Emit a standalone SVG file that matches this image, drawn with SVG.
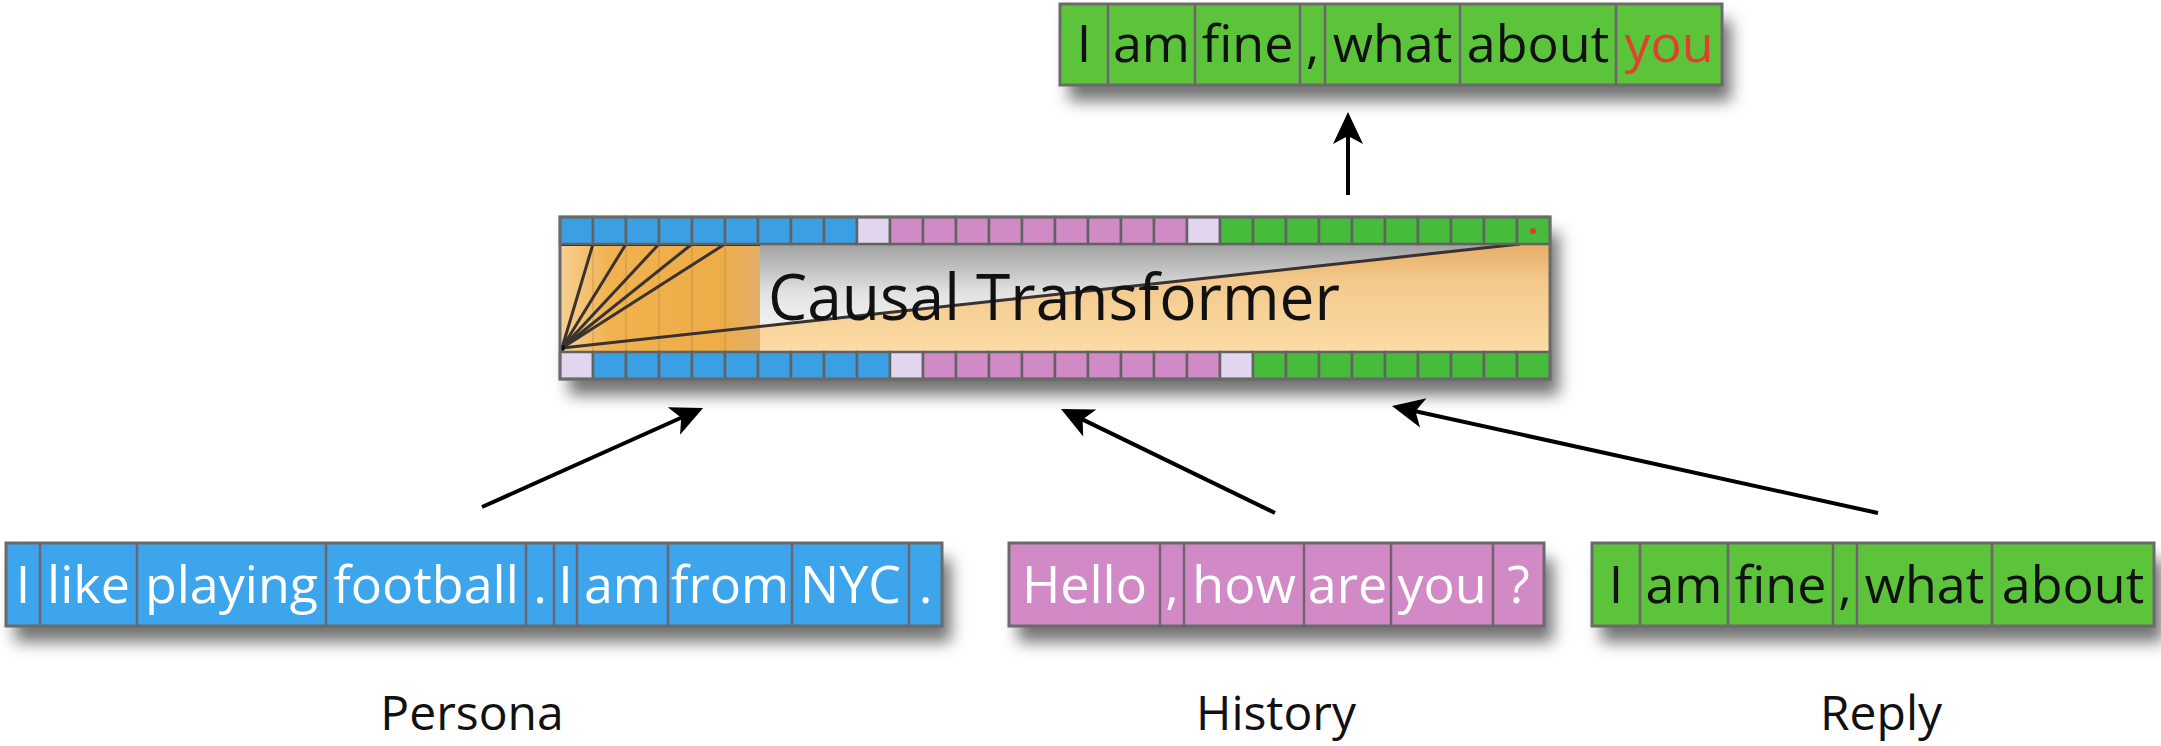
<svg xmlns="http://www.w3.org/2000/svg" width="2161" height="746" viewBox="0 0 2161 746">
  <defs>
    <filter id="shadow" x="-5%" y="-30%" width="115%" height="190%">
      <feDropShadow dx="9" dy="16" stdDeviation="8" flood-color="#000" flood-opacity="0.55"/>
    </filter>
    <linearGradient id="wedge" x1="0" y1="0" x2="0" y2="1">
      <stop offset="0" stop-color="#e6ae66"/>
      <stop offset="0.35" stop-color="#f3c98c"/>
      <stop offset="1" stop-color="#fcdca6"/>
    </linearGradient>
    <linearGradient id="haze" x1="0" y1="0" x2="0" y2="1">
      <stop offset="0" stop-color="#a0a0a0"/>
      <stop offset="0.45" stop-color="#e2e2e2"/>
      <stop offset="1" stop-color="#ffffff"/>
    </linearGradient>
    <linearGradient id="block" x1="0" y1="0" x2="1" y2="0">
      <stop offset="0" stop-color="#f6d193"/>
      <stop offset="0.25" stop-color="#f1b24f"/>
      <stop offset="0.8" stop-color="#eeac48"/>
      <stop offset="1" stop-color="#e3ae68"/>
    </linearGradient>
    <marker id="head" markerUnits="userSpaceOnUse" orient="auto" refX="0" refY="0" markerWidth="60" markerHeight="60" viewBox="-30 -30 60 60" overflow="visible">
      <path d="M10,0 L-22,-15 L-14,0 L-22,15 Z" fill="#000"/>
    </marker>
  </defs>
  <style>
    text { font-family: "Open Sans", "Liberation Sans", sans-serif; }
    .tok { font-size: 52px; text-anchor: middle; }
    .dark { fill: #111; }
    .light { fill: #fff; }
    .red { fill: #e0402c; }
    .label { font-size: 48px; text-anchor: middle; fill: #111; }
    .title { font-size: 64px; fill: #111; }
    .frame { fill: none; stroke: #6a6a6a; stroke-width: 3; }
    .div { stroke: #6e6470; stroke-width: 2.5; }
    .g { fill: #5cc43a; }
    .b { fill: #3ea5ec; }
    .p { fill: #d28ac6; }
    .cb { fill: #3a9fe3; stroke: #626262; stroke-width: 2.5; }
    .cp { fill: #d08ac5; stroke: #626262; stroke-width: 2.5; }
    .cg { fill: #46bb3c; stroke: #626262; stroke-width: 2.5; }
    .cl { fill: #e2d6ef; stroke: #626262; stroke-width: 2.5; }
    .ray { stroke: #3a3230; stroke-width: 3; fill: none; }
    .arrow { stroke: #000; stroke-width: 4; fill: none; marker-end: url(#head); }
  </style>

  <rect width="2161" height="746" fill="#fff"/>

  <!-- output sequence -->
  <g id="output">
    <g filter="url(#shadow)">
      <rect x="1060" y="4" width="662" height="81" class="g"/>
    </g>
    <line x1="1108" y1="4" x2="1108" y2="85" class="div"/>
    <line x1="1195" y1="4" x2="1195" y2="85" class="div"/>
    <line x1="1300" y1="4" x2="1300" y2="85" class="div"/>
    <line x1="1325" y1="4" x2="1325" y2="85" class="div"/>
    <line x1="1460" y1="4" x2="1460" y2="85" class="div"/>
    <line x1="1616" y1="4" x2="1616" y2="85" class="div"/>
    <rect x="1060" y="4" width="662" height="81" class="frame"/>
    <text class="tok dark" x="1084" y="62">I</text>
    <text class="tok dark" x="1151.5" y="62">am</text>
    <text class="tok dark" x="1247.5" y="62">fine</text>
    <text class="tok dark" x="1312.5" y="62">,</text>
    <text class="tok dark" x="1392.5" y="62">what</text>
    <text class="tok dark" x="1538" y="62">about</text>
    <text class="tok red" x="1669" y="62">you</text>
  </g>

  <!-- transformer block -->
  <g id="transformer">
    <g filter="url(#shadow)">
      <rect x="560" y="217" width="990" height="162" fill="#fff"/>
    </g>
    <!-- middle band -->
    <rect x="560" y="244" width="990" height="108" fill="url(#haze)"/>
    <polygon points="760,326 1520,244 1550,244 1550,352 760,352" fill="url(#wedge)"/>
    <rect x="560" y="244" width="200" height="108" fill="url(#block)"/>
    <g stroke="#a87a3a" stroke-opacity="0.35" stroke-width="1.5">
      <line x1="593" y1="244" x2="593" y2="352"/>
      <line x1="626" y1="244" x2="626" y2="352"/>
      <line x1="659" y1="244" x2="659" y2="352"/>
      <line x1="692" y1="244" x2="692" y2="352"/>
      <line x1="725" y1="244" x2="725" y2="352"/>
    </g>
    <line x1="560" y1="244" x2="760" y2="244" stroke="#262633" stroke-width="4"/>
    <g class="ray">
      <line x1="562" y1="348" x2="593" y2="244"/>
      <line x1="562" y1="348" x2="626" y2="244"/>
      <line x1="562" y1="348" x2="659" y2="244"/>
      <line x1="562" y1="348" x2="692" y2="244"/>
      <line x1="562" y1="348" x2="725" y2="244"/>
      <line x1="562" y1="348" x2="1520" y2="244"/>
    </g>
    <circle cx="562" cy="348" r="3" fill="#111"/>
    <text class="title" x="768" y="320" textLength="572" lengthAdjust="spacingAndGlyphs">Causal Transformer</text>

    <!-- output-side token slots -->
    <g id="top-slots">
      <rect class="cb" x="560" y="217" width="33" height="27"/>
      <rect class="cb" x="593" y="217" width="33" height="27"/>
      <rect class="cb" x="626" y="217" width="33" height="27"/>
      <rect class="cb" x="659" y="217" width="33" height="27"/>
      <rect class="cb" x="692" y="217" width="33" height="27"/>
      <rect class="cb" x="725" y="217" width="33" height="27"/>
      <rect class="cb" x="758" y="217" width="33" height="27"/>
      <rect class="cb" x="791" y="217" width="33" height="27"/>
      <rect class="cb" x="824" y="217" width="33" height="27"/>
      <rect class="cl" x="857" y="217" width="33" height="27"/>
      <rect class="cp" x="890" y="217" width="33" height="27"/>
      <rect class="cp" x="923" y="217" width="33" height="27"/>
      <rect class="cp" x="956" y="217" width="33" height="27"/>
      <rect class="cp" x="989" y="217" width="33" height="27"/>
      <rect class="cp" x="1022" y="217" width="33" height="27"/>
      <rect class="cp" x="1055" y="217" width="33" height="27"/>
      <rect class="cp" x="1088" y="217" width="33" height="27"/>
      <rect class="cp" x="1121" y="217" width="33" height="27"/>
      <rect class="cp" x="1154" y="217" width="33" height="27"/>
      <rect class="cl" x="1187" y="217" width="33" height="27"/>
      <rect class="cg" x="1220" y="217" width="33" height="27"/>
      <rect class="cg" x="1253" y="217" width="33" height="27"/>
      <rect class="cg" x="1286" y="217" width="33" height="27"/>
      <rect class="cg" x="1319" y="217" width="33" height="27"/>
      <rect class="cg" x="1352" y="217" width="33" height="27"/>
      <rect class="cg" x="1385" y="217" width="33" height="27"/>
      <rect class="cg" x="1418" y="217" width="33" height="27"/>
      <rect class="cg" x="1451" y="217" width="33" height="27"/>
      <rect class="cg" x="1484" y="217" width="33" height="27"/>
      <rect class="cg" x="1517" y="217" width="33" height="27"/>
      <circle cx="1533" cy="231" r="3" fill="#d8402c"/>
    </g>

    <!-- input-side token slots -->
    <g id="bottom-slots">
      <rect class="cl" x="560" y="352" width="33" height="27"/>
      <rect class="cb" x="593" y="352" width="33" height="27"/>
      <rect class="cb" x="626" y="352" width="33" height="27"/>
      <rect class="cb" x="659" y="352" width="33" height="27"/>
      <rect class="cb" x="692" y="352" width="33" height="27"/>
      <rect class="cb" x="725" y="352" width="33" height="27"/>
      <rect class="cb" x="758" y="352" width="33" height="27"/>
      <rect class="cb" x="791" y="352" width="33" height="27"/>
      <rect class="cb" x="824" y="352" width="33" height="27"/>
      <rect class="cb" x="857" y="352" width="33" height="27"/>
      <rect class="cl" x="890" y="352" width="33" height="27"/>
      <rect class="cp" x="923" y="352" width="33" height="27"/>
      <rect class="cp" x="956" y="352" width="33" height="27"/>
      <rect class="cp" x="989" y="352" width="33" height="27"/>
      <rect class="cp" x="1022" y="352" width="33" height="27"/>
      <rect class="cp" x="1055" y="352" width="33" height="27"/>
      <rect class="cp" x="1088" y="352" width="33" height="27"/>
      <rect class="cp" x="1121" y="352" width="33" height="27"/>
      <rect class="cp" x="1154" y="352" width="33" height="27"/>
      <rect class="cp" x="1187" y="352" width="33" height="27"/>
      <rect class="cl" x="1220" y="352" width="33" height="27"/>
      <rect class="cg" x="1253" y="352" width="33" height="27"/>
      <rect class="cg" x="1286" y="352" width="33" height="27"/>
      <rect class="cg" x="1319" y="352" width="33" height="27"/>
      <rect class="cg" x="1352" y="352" width="33" height="27"/>
      <rect class="cg" x="1385" y="352" width="33" height="27"/>
      <rect class="cg" x="1418" y="352" width="33" height="27"/>
      <rect class="cg" x="1451" y="352" width="33" height="27"/>
      <rect class="cg" x="1484" y="352" width="33" height="27"/>
      <rect class="cg" x="1517" y="352" width="33" height="27"/>
    </g>
    <rect x="560" y="217" width="990" height="162" class="frame"/>
  </g>

  <!-- persona sequence -->
  <g id="persona">
    <g filter="url(#shadow)">
      <rect x="6" y="543" width="936" height="83" class="b"/>
    </g>
    <line x1="40" y1="543" x2="40" y2="626" class="div"/>
    <line x1="137" y1="543" x2="137" y2="626" class="div"/>
    <line x1="326" y1="543" x2="326" y2="626" class="div"/>
    <line x1="526" y1="543" x2="526" y2="626" class="div"/>
    <line x1="554" y1="543" x2="554" y2="626" class="div"/>
    <line x1="577" y1="543" x2="577" y2="626" class="div"/>
    <line x1="668" y1="543" x2="668" y2="626" class="div"/>
    <line x1="792" y1="543" x2="792" y2="626" class="div"/>
    <line x1="909" y1="543" x2="909" y2="626" class="div"/>
    <rect x="6" y="543" width="936" height="83" class="frame"/>
    <text class="tok light" x="23" y="603">I</text>
    <text class="tok light" x="88.5" y="603">like</text>
    <text class="tok light" x="231.5" y="603">playing</text>
    <text class="tok light" x="426" y="603">football</text>
    <text class="tok light" x="540" y="603">.</text>
    <text class="tok light" x="565.5" y="603">I</text>
    <text class="tok light" x="622.5" y="603">am</text>
    <text class="tok light" x="730" y="603">from</text>
    <text class="tok light" x="850.5" y="603">NYC</text>
    <text class="tok light" x="925.5" y="603">.</text>
  </g>

  <!-- history sequence -->
  <g id="history">
    <g filter="url(#shadow)">
      <rect x="1009" y="543" width="535" height="83" class="p"/>
    </g>
    <line x1="1160" y1="543" x2="1160" y2="626" class="div"/>
    <line x1="1184" y1="543" x2="1184" y2="626" class="div"/>
    <line x1="1304" y1="543" x2="1304" y2="626" class="div"/>
    <line x1="1391" y1="543" x2="1391" y2="626" class="div"/>
    <line x1="1493" y1="543" x2="1493" y2="626" class="div"/>
    <rect x="1009" y="543" width="535" height="83" class="frame"/>
    <text class="tok light" x="1084.5" y="603">Hello</text>
    <text class="tok light" x="1172" y="603">,</text>
    <text class="tok light" x="1244" y="603">how</text>
    <text class="tok light" x="1347.5" y="603">are</text>
    <text class="tok light" x="1442" y="603">you</text>
    <text class="tok light" x="1518.5" y="603">?</text>
  </g>

  <!-- reply sequence -->
  <g id="reply">
    <g filter="url(#shadow)">
      <rect x="1592" y="543" width="562" height="83" class="g"/>
    </g>
    <line x1="1640" y1="543" x2="1640" y2="626" class="div"/>
    <line x1="1728" y1="543" x2="1728" y2="626" class="div"/>
    <line x1="1833" y1="543" x2="1833" y2="626" class="div"/>
    <line x1="1857" y1="543" x2="1857" y2="626" class="div"/>
    <line x1="1992" y1="543" x2="1992" y2="626" class="div"/>
    <rect x="1592" y="543" width="562" height="83" class="frame"/>
    <text class="tok dark" x="1616" y="603">I</text>
    <text class="tok dark" x="1684" y="603">am</text>
    <text class="tok dark" x="1780.5" y="603">fine</text>
    <text class="tok dark" x="1845" y="603">,</text>
    <text class="tok dark" x="1924.5" y="603">what</text>
    <text class="tok dark" x="2073" y="603">about</text>
  </g>

  <!-- section labels -->
  <g id="labels">
    <text class="label" x="472" y="730">Persona</text>
    <text class="label" x="1276" y="730">History</text>
    <text class="label" x="1881" y="730">Reply</text>
  </g>

  <!-- connectors -->
  <g id="connectors">
    <line class="arrow" x1="482" y1="507" x2="694" y2="412"/>
    <line class="arrow" x1="1275" y1="513" x2="1070" y2="413.4"/>
    <line class="arrow" x1="1878" y1="513" x2="1401.8" y2="408.2"/>
    <line class="arrow" x1="1348" y1="195" x2="1348" y2="122"/>
  </g>
</svg>
